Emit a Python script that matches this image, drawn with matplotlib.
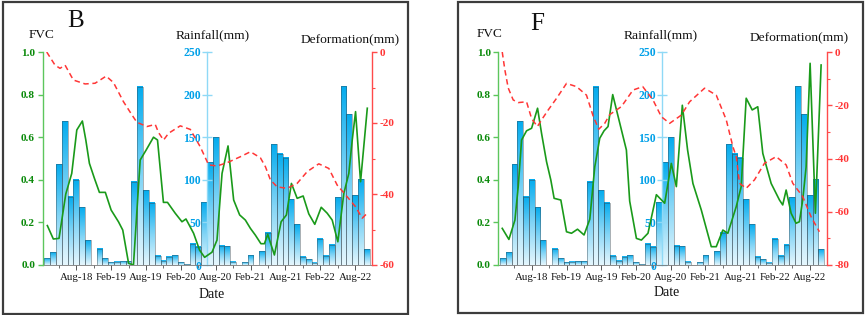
import numpy as np
import matplotlib
matplotlib.use('Agg')
import matplotlib.pyplot as plt
from matplotlib.colors import LinearSegmentedColormap
from matplotlib.patches import Rectangle
from matplotlib.ticker import FixedLocator

plt.rcParams['font.family'] = ['Liberation Serif', 'DejaVu Serif']
plt.rcParams['axes.unicode_minus'] = False

# ---------------- data (month index 0 = Mar-2018 ... 55 = Oct-2022) ----------------
months = list(range(56))
rain = [8, 15, 118, 169, 80, 100, 68, 29, 0, 19, 8, 3, 4, 4.5, 4.5, 98, 209, 88, 73,
        10.6, 5, 9.8, 11.7, 3, 1, 25, 21.5, 73.6, 120.5, 150, 22.7, 22, 4, 0, 3, 11.7, 0, 16.4,
        38, 141.6, 130.6, 126, 77, 48, 9.8, 7, 2.7, 31, 10.6, 23.5, 79.5, 210, 177, 82, 100.6, 18.4]
rain_ticks = [0, 50, 100, 150, 200, 250]

xtick_pos = [5, 11, 17, 23, 29, 35, 41, 47, 53]
xtick_labels = ['Aug-18', 'Feb-19', 'Aug-19', 'Feb-20', 'Aug-20', 'Feb-21', 'Aug-21', 'Feb-22', 'Aug-22']

fvc_b_x = [0.02, 1.05, 2.03, 3.19, 4.22, 5.09, 6.05, 6.64, 7.26, 8.12, 8.98, 10.0, 11.0, 12.26, 13.0,
           14.0, 14.84, 16.0, 17.03, 18.29, 18.98, 20.0, 20.7, 22.03, 23.19, 23.88, 25.19, 26.22, 27.09,
           28.36, 29.22, 30.09, 31.12, 32.09, 33.12, 34.1, 34.97, 35.83, 36.78, 37.38, 37.95, 39.1, 40.26,
           41.17, 42.03, 43.02, 44.05, 45.02, 46.05, 47.16, 48.19, 49.05, 50.02, 51.05, 51.91, 52.5, 53.07,
           53.93, 55.09]
fvc_b = [0.185, 0.122, 0.125, 0.333, 0.43, 0.634, 0.676, 0.587, 0.477, 0.407, 0.341, 0.341, 0.258, 0.203,
         0.164, 0.008, 0.0, 0.493, 0.54, 0.60, 0.587, 0.294, 0.294, 0.243, 0.203, 0.216, 0.149, 0.07, 0.036,
         0.06, 0.117, 0.43, 0.559, 0.305, 0.235, 0.211, 0.172, 0.14, 0.10, 0.10, 0.144, 0.047, 0.203, 0.235,
         0.383, 0.313, 0.324, 0.24, 0.191, 0.271, 0.243, 0.211, 0.109, 0.336, 0.43, 0.587, 0.72, 0.391, 0.736]

def_b_x = [-0.09, 1.34, 2.2, 3.07, 4.5, 6.52, 8.24, 10.14, 11.4, 13.12, 14.57, 15.43, 17.16, 18.59, 19.16,
           20.02, 20.88, 22.9, 24.62, 26.34, 27.78, 29.22, 30.95, 33.24, 34.97, 36.69, 37.55, 38.41, 39.57,
           41.29, 43.02, 44.74, 46.74, 48.47, 49.91, 51.64, 53.07, 54.22, 55.09]
def_b = [0, -3.7, -4.6, -3.7, -7.9, -9, -8.8, -6.8, -8.6, -14, -17.7, -19.8, -21, -20.4, -22.7, -24.8, -22.9,
         -20.8, -21.8, -26.7, -31.8, -32.1, -31.2, -29.5, -28.1, -29.8, -32.3, -36, -38, -38.4, -37, -33.7,
         -31.5, -32.8, -37.5, -40.8, -43.6, -46.8, -45.4]

fvc_f_x = [-0.1, 1.05, 2.09, 2.66, 3.24, 4.1, 4.97, 6.0, 6.69, 7.55, 8.29, 8.86, 10.02, 11.0, 11.86, 12.9,
           14.03, 15.02, 15.88, 16.74, 17.48, 18.17, 18.98, 21.34, 21.91, 23.07, 23.93, 25.07, 26.52, 27.95,
           29.1, 29.97, 31.0, 31.91, 32.83, 34.28, 36.0, 36.86, 38.0, 38.86, 40.31, 41.17, 42.03, 43.07, 44.03,
           44.9, 46.34, 47.78, 48.34, 48.93, 49.79, 50.64, 51.22, 51.79, 52.38, 53.07, 53.98, 54.97]
fvc_f = [0.172, 0.12, 0.211, 0.368, 0.587, 0.63, 0.642, 0.736, 0.618, 0.485, 0.399, 0.313, 0.305, 0.156,
         0.149, 0.168, 0.141, 0.215, 0.461, 0.595, 0.63, 0.65, 0.80, 0.54, 0.30, 0.125, 0.117, 0.149, 0.33,
         0.29, 0.477, 0.368, 0.75, 0.54, 0.383, 0.258, 0.086, 0.086, 0.164, 0.149, 0.274, 0.368, 0.783, 0.728,
         0.743, 0.524, 0.383, 0.305, 0.282, 0.352, 0.243, 0.196, 0.203, 0.305, 0.461, 0.947, 0.243, 0.939]

def_f_x = [-0.1, 0.36, 0.93, 1.79, 2.66, 4.1, 4.97, 5.97, 6.69, 7.83, 9.28, 11.0, 12.72, 14.45, 15.59, 16.57,
           17.6, 18.47, 20.48, 22.48, 24.16, 25.93, 27.38, 28.81, 30.83, 32.26, 34.84, 36.86, 38.59, 39.74,
           40.31, 40.88, 42.03, 43.47, 45.19, 47.21, 48.93, 50.07, 51.79, 53.24, 54.67]
def_f = [0, -6.8, -13.5, -18, -19, -18.7, -25, -28, -25.5, -21.8, -17.4, -11.8, -13, -16.2, -24, -29, -26.8,
         -23.5, -20.5, -14.3, -13, -18, -24.3, -26.8, -23.7, -18.7, -13.6, -16.2, -25.5, -35.6, -39.3, -49.3,
         -51.2, -48, -41.8, -39.3, -42.4, -49.3, -54.3, -61.9, -67.5]

# ---------------- styling ----------------
W, H = 865, 315
GREEN_LINE = '#1a9a1a'
GREEN_TXT = '#0a8a0a'
GREEN_SPINE = '#5cc65c'
BLUE_TXT = '#00a0e8'
BLUE_SPINE = '#8fd9f6'
RED = '#ff3636'
RED_SPINE = '#ff4a4a'
grad = LinearSegmentedColormap.from_list('g', ['#e4f6fd', '#80d4f6', '#05acee'])

fig = plt.figure(figsize=(W / 100, H / 100), dpi=100)


def fbox(x0, y0, x1, y1):
    return [x0 / W, 1 - y1 / H, (x1 - x0) / W, (y1 - y0) / H]


def ftext(x, y, s, **kw):
    fig.text(x / W, 1 - y / H, s, ha='center', va='center', **kw)


panels = [
    dict(letter='B', plot=(42.7, 52, 372, 265), frame=(3, 2, 407.5, 313.5),
         fx=fvc_b_x, fv=fvc_b, dx=def_b_x, dv=def_b, dmin=-60,
         letter_xy=(76, 21), fvc_xy=(42, 35), rain_xy=(213, 35), def_xy=(350, 40), date_xy=(212, 295)),
    dict(letter='F', plot=(498.3, 52, 826.5, 265), frame=(457.5, 2, 862.5, 313),
         fx=fvc_f_x, fv=fvc_f, dx=def_f_x, dv=def_f, dmin=-80,
         letter_xy=(537, 24), fvc_xy=(490, 34), rain_xy=(661, 35), def_xy=(799, 38), date_xy=(667, 293)),
]

for p in panels:
    # frame around panel
    fx0, fy0, fx1, fy1 = p['frame']
    fig.patches.append(Rectangle((fx0 / W, 1 - fy1 / H), (fx1 - fx0) / W, (fy1 - fy0) / H,
                                 transform=fig.transFigure, fill=False, edgecolor='#3c3c3c', lw=1.6))

    ax_r = fig.add_axes(fbox(*p['plot']))
    ax_f = ax_r.twinx()
    ax_d = ax_r.twinx()
    # fix every spine position now, so no tick reset happens later at draw time
    for a in (ax_r, ax_f, ax_d):
        for s in ('right', 'top', 'bottom'):
            a.spines[s].set_position(('outward', 0))
        a.spines['left'].set_position(('outward', 0))
    ax_r.spines['left'].set_position(('axes', 0.5))

    # ---- rainfall bars (gradient) ----
    g = np.linspace(0, 1, 64).reshape(-1, 1)
    for m, r in zip(months, rain):
        if r > 0:
            ax_r.imshow(g, cmap=grad, origin='lower', aspect='auto',
                        extent=[m - 0.5, m + 0.5, 0, r], zorder=1, interpolation='bilinear')
    ax_r.bar(months, rain, width=1.0, facecolor='none', edgecolor='#34454f', linewidth=0.4,
             alpha=0.75, zorder=2)
    ax_r.set_xlim(-0.78, 55.9)
    ax_r.set_ylim(0, 250)
    ax_r.spines['left'].set_color(BLUE_SPINE)
    ax_r.spines['left'].set_linewidth(1.0)
    ax_r.spines['right'].set_visible(False)
    ax_r.spines['top'].set_visible(False)
    ax_r.spines['bottom'].set_color('#777777')
    ax_r.spines['bottom'].set_linewidth(0.6)
    ax_r.tick_params(axis='y', direction='inout', length=7, width=1.0, color=BLUE_SPINE,
                     labelcolor=BLUE_TXT, labelsize=8.4, pad=1)
    ax_r.set_yticks(rain_ticks)
    ax_r.set_yticklabels([str(v) for v in rain_ticks], fontweight='bold')
    ax_r.set_xticks(xtick_pos)
    ax_r.set_xticklabels(xtick_labels)
    ax_r.xaxis.set_minor_locator(FixedLocator([x - 3 for x in xtick_pos]))
    ax_r.tick_params(axis='x', which='major', direction='out', length=3.5, width=0.7, color='#555555',
                     labelsize=7.8, pad=2, labelcolor='#151515')
    ax_r.tick_params(axis='x', which='minor', direction='out', length=2, width=0.6, color='#555555')
    ax_r.patch.set_visible(False)

    # ---- FVC (left) ----
    ax_f.yaxis.tick_left()
    ax_f.plot(p['fx'], p['fv'], color=GREEN_LINE, lw=1.2, zorder=3)
    ax_f.set_ylim(0, 1.0)
    ax_f.set_yticks([0, 0.2, 0.4, 0.6, 0.8, 1.0])
    ax_f.set_yticklabels(['0.0', '0.2', '0.4', '0.6', '0.8', '1.0'], fontweight='bold')
    for s in ['right', 'top', 'bottom']:
        ax_f.spines[s].set_visible(False)
    ax_f.spines['left'].set_color(GREEN_SPINE)
    ax_f.spines['left'].set_linewidth(1.0)
    ax_f.tick_params(axis='y', direction='out', length=3.5, width=1.0, color=GREEN_SPINE,
                     labelcolor=GREEN_TXT, labelsize=8.1, pad=2)

    # ---- Deformation (right) ----
    ax_d.plot(p['dx'], p['dv'], color=RED, lw=1.1, dashes=(3.6, 2.4), zorder=3)
    ax_d.set_ylim(p['dmin'], 0)
    major = list(range(p['dmin'], 1, 20))
    ax_d.set_yticks(major)
    ax_d.set_yticklabels([str(v) for v in major], fontweight='bold')
    ax_d.yaxis.set_minor_locator(FixedLocator([v + 10 for v in major[:-1]]))
    for s in ['left', 'top', 'bottom']:
        ax_d.spines[s].set_visible(False)
    ax_d.spines['right'].set_color(RED_SPINE)
    ax_d.spines['right'].set_linewidth(1.0)
    ax_d.tick_params(axis='y', which='major', direction='out', length=3.5, width=1.0, color=RED_SPINE,
                     labelcolor=RED, labelsize=8.1, pad=2)
    ax_d.tick_params(axis='y', which='minor', direction='out', length=2, width=0.8, color=RED_SPINE)
    ax_d.set_xlim(-0.78, 55.9)

    # ---- texts ----
    ftext(*p['letter_xy'], p['letter'], fontsize=18, color='#111111')
    ftext(*p['fvc_xy'], 'FVC', fontsize=9.5, color='#111111')
    ftext(*p['rain_xy'], 'Rainfall(mm)', fontsize=9.7, color='#111111')
    ftext(*p['def_xy'], 'Deformation(mm)', fontsize=9.7, color='#111111')
    ftext(*p['date_xy'], 'Date', fontsize=10, color='#111111')

fig.savefig('out.png', dpi=100, facecolor='white')
